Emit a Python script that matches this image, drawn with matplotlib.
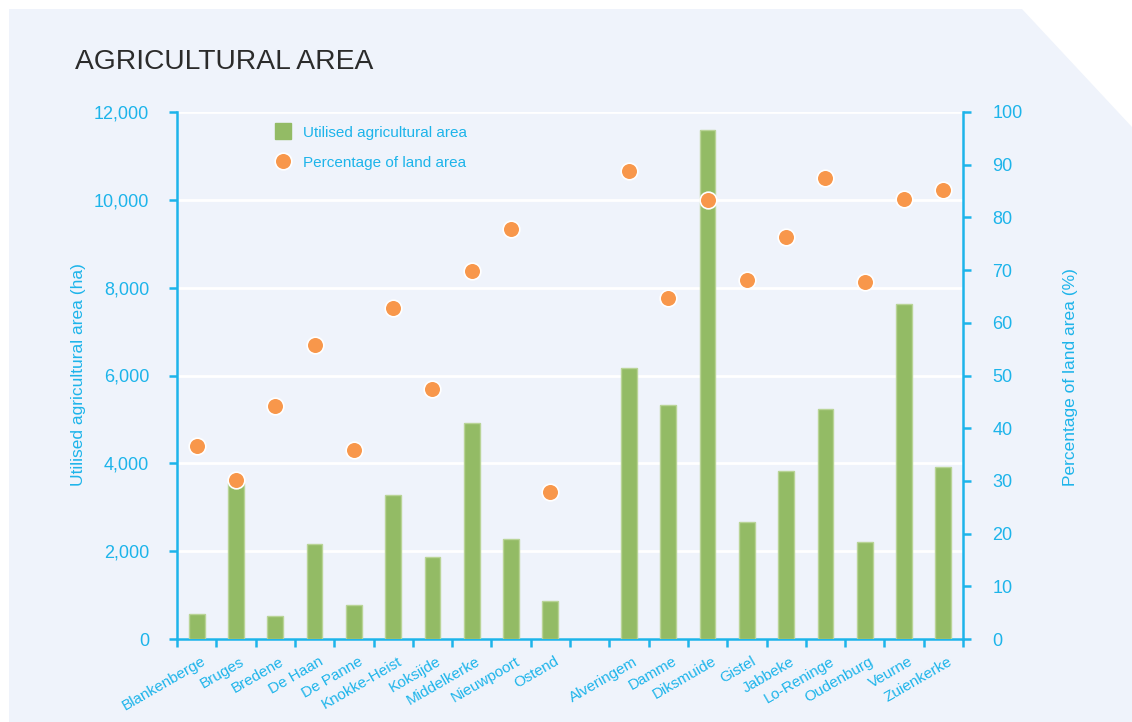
import numpy as np
import matplotlib.pyplot as plt
from matplotlib.patches import Polygon
from matplotlib.lines import Line2D
from matplotlib.ticker import FuncFormatter
import matplotlib.transforms as mtransforms

plt.rcParams["font.family"] = ["Liberation Sans", "DejaVu Sans"]

# --------------------------------------------------------------------------- #
# data
# --------------------------------------------------------------------------- #
coastal = ["Blankenberge", "Bruges", "Bredene", "De Haan", "De Panne",
           "Knokke-Heist", "Koksijde", "Middelkerke", "Nieuwpoort", "Ostend"]
polder = ["Alveringem", "Damme", "Diksmuide", "Gistel", "Jabbeke",
          "Lo-Reninge", "Oudenburg", "Veurne", "Zuienkerke"]

coastal_area = [570, 3550, 520, 2170, 770, 3270, 1870, 4920, 2270, 860]
polder_area = [6170, 5320, 11600, 2660, 3820, 5230, 2220, 7620, 3920]

coastal_pct = [36.6, 30.2, 44.2, 55.8, 35.9, 62.8, 47.4, 69.8, 77.8, 27.9]
polder_pct = [88.8, 64.7, 83.3, 68.1, 76.3, 87.5, 67.7, 83.5, 85.2]

BLUE = "#1db4ea"
GREEN = "#93bb65"
GREEN_EDGE = "#b9d497"
ORANGE = "#f8974b"
PANEL = "#eff3fb"

# one empty slot between the two groups
names = coastal + polder
pos = list(range(len(coastal))) + [len(coastal) + 1 + i for i in range(len(polder))]
area = coastal_area + polder_area
pct = coastal_pct + polder_pct
n_slots = len(coastal) + 1 + len(polder)

# --------------------------------------------------------------------------- #
# figure
# --------------------------------------------------------------------------- #
W, H = 1132, 722
fig = plt.figure(figsize=(W / 100, H / 100), dpi=100, facecolor="white")

# panel with the cut top-right corner
corner = [(9, 722), (9, 9), (1022, 9), (1132, 127), (1132, 722)]
fig.patches.append(Polygon([(x / W, 1 - y / H) for x, y in corner], closed=True,
                           transform=fig.transFigure, facecolor=PANEL,
                           edgecolor="none", zorder=-10))

ax = fig.add_axes([177 / W, 1 - 639 / H, (963 - 177) / W, (639 - 112) / H])
ax.set_facecolor("none")
ax2 = ax.twinx()
ax2.set_facecolor("none")

ax.bar(pos, area, width=0.4, color=GREEN, edgecolor=GREEN_EDGE, linewidth=1,
       zorder=3)
ax2.plot(pos, pct, "o", color=ORANGE, markersize=12, markeredgecolor="white",
         markeredgewidth=1.2, zorder=4, clip_on=False)

ax.set_xlim(-0.5, n_slots - 0.5)
ax.set_ylim(0, 12000)
ax2.set_ylim(0, 100)

ax.set_yticks(np.arange(0, 12001, 2000))
ax.yaxis.set_major_formatter(FuncFormatter(lambda v, _: f"{int(v):,}"))
ax2.set_yticks(np.arange(0, 101, 10))

ax.grid(axis="y", color="white", linewidth=2, zorder=0)
ax.set_axisbelow(True)

# x ticks at slot borders, labels at slot centres
ax.set_xticks(np.arange(-0.5, n_slots, 1.0))
ax.set_xticklabels([])
ax.set_xticks(pos, minor=True)
ax.set_xticklabels(names, minor=True, rotation=30, ha="right",
                   rotation_mode="anchor", fontsize=11, color=BLUE)
ax.tick_params(axis="x", which="minor", length=0, pad=11)
shift = mtransforms.ScaledTranslation(3 / 72, 0, fig.dpi_scale_trans)
for lab in ax.get_xticklabels(minor=True):
    lab.set_transform(lab.get_transform() + shift)

ax.tick_params(axis="x", which="major", direction="out", length=6, width=1.8,
               color=BLUE)
ax.tick_params(axis="y", direction="out", length=6, width=1.8, color=BLUE,
               labelcolor=BLUE, labelsize=13, pad=14)
ax2.tick_params(axis="y", direction="out", length=6, width=1.8, color=BLUE,
                labelcolor=BLUE, labelsize=13, pad=15)

for a in (ax, ax2):
    a.spines["top"].set_visible(False)
    for s in ("left", "right", "bottom"):
        a.spines[s].set_color(BLUE)
        a.spines[s].set_linewidth(1.8)
ax.spines["right"].set_visible(False)
ax2.spines["left"].set_visible(False)
ax2.spines["bottom"].set_visible(False)

fig.text(78 / W, 1 - 375 / H, "Utilised agricultural area (ha)", rotation=90,
         ha="center", va="center", color=BLUE, fontsize=12.5)
fig.text(1070 / W, 1 - 377 / H, "Percentage of land area (%)", rotation=90,
         ha="center", va="center", color=BLUE, fontsize=12.5)

fig.text(75 / W, 1 - 62 / H, "AGRICULTURAL AREA", ha="left", va="center",
         color="#2b2b2b", fontsize=20.3)

handles = [
    Line2D([], [], linestyle="none", marker="s", markersize=11,
           color=GREEN, markeredgecolor=GREEN),
    Line2D([], [], linestyle="none", marker="o", markersize=12,
           color=ORANGE, markeredgecolor="white", markeredgewidth=1.2),
]
leg = ax.legend(handles, ["Utilised agricultural area", "Percentage of land area"],
                loc="upper left", bbox_to_anchor=(268 / W, 1 - 118 / H),
                bbox_transform=fig.transFigure, frameon=False, fontsize=11,
                handlelength=1.0, handletextpad=0.8, labelspacing=1.05,
                borderpad=0)
for t in leg.get_texts():
    t.set_color(BLUE)
leg.set_zorder(6)

fig.savefig("out.png", dpi=100, facecolor=fig.get_facecolor())
